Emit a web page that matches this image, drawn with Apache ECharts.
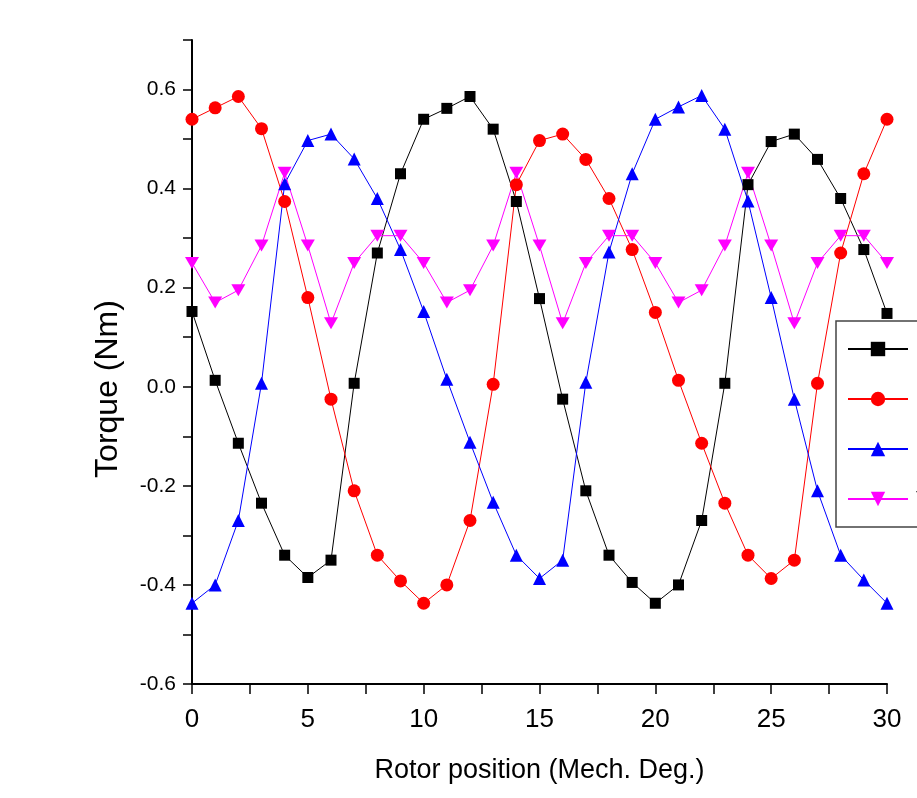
<!DOCTYPE html>
<html>
<head>
<meta charset="utf-8">
<script src="https://cdn.jsdelivr.net/npm/echarts@6/dist/echarts.min.js"></script>
<style>html,body{margin:0;padding:0;background:#fff}#c{width:917px;height:798px}</style>
</head>
<body>
<div id="c"></div>
<script>
const positions = [0,1,2,3,4,5,6,7,8,9,10,11,12,13,14,15,16,17,18,19,20,21,22,23,24,25,26,27,28,29,30];
const seriesNames = ['Phase A', 'Phase B', 'Phase C', 'Total'];
const phaseA = [0.152,0.013,-0.114,-0.235,-0.34,-0.385,-0.35,0.007,0.27,0.43,0.54,0.562,0.586,0.52,0.374,0.178,-0.025,-0.21,-0.34,-0.395,-0.437,-0.4,-0.27,0.007,0.408,0.495,0.51,0.459,0.38,0.277,0.148];
const phaseB = [0.54,0.563,0.586,0.521,0.374,0.18,-0.025,-0.21,-0.34,-0.392,-0.437,-0.4,-0.27,0.005,0.408,0.497,0.51,0.459,0.38,0.277,0.15,0.013,-0.114,-0.235,-0.34,-0.387,-0.35,0.007,0.27,0.43,0.54];
const phaseC = [-0.437,-0.4,-0.27,0.007,0.41,0.497,0.51,0.46,0.38,0.277,0.152,0.015,-0.112,-0.233,-0.34,-0.387,-0.35,0.009,0.272,0.43,0.54,0.565,0.588,0.52,0.375,0.18,-0.025,-0.21,-0.34,-0.39,-0.437];
const total = [0.25,0.17,0.195,0.285,0.432,0.285,0.128,0.25,0.305,0.305,0.25,0.17,0.195,0.285,0.432,0.285,0.128,0.25,0.305,0.305,0.25,0.17,0.195,0.285,0.432,0.285,0.128,0.25,0.305,0.305,0.25];
const yTicks = [-0.6,-0.4,-0.2,0.0,0.2,0.4,0.6];

const pair = arr => positions.map((x,i)=>[x, arr[i]]);
const FONT = 'Liberation Sans';
const NARROW = "'Liberation Sans Narrow', 'Liberation Sans'";
const downTri = 'path://M0,0 L2,0 L1,1.732 Z';

const chart = echarts.init(document.getElementById('c'));
chart.setOption({
  animation: false,
  backgroundColor: '#ffffff',
  grid: { left: 192, right: 30, top: 40, bottom: 114, containLabel: false },
  legend: {
    left: 836, top: 321, orient: 'vertical',
    padding: [19, 20, 19, 11],
    itemWidth: 60, itemHeight: 18, itemGap: 32,
    borderColor: '#444', borderWidth: 1.5,
    textStyle: { fontFamily: FONT, fontSize: 16, lineHeight: 18, color: '#000', padding: [0, 0, 0, 3] },
    data: seriesNames
  },
  xAxis: {
    type: 'value', min: 0, max: 30, interval: 5,
    name: 'Rotor position (Mech. Deg.)', nameLocation: 'middle', nameGap: 73,
    nameTextStyle: { fontFamily: FONT, fontSize: 27, color: '#000' },
    axisLine: { show: true, onZero: false, lineStyle: { color: '#000', width: 2 } },
    axisTick: { show: true, inside: false, length: 10, lineStyle: { color: '#000', width: 1.5 } },
    minorTick: { show: true, splitNumber: 2, length: 10, lineStyle: { color: '#000', width: 1.5 } },
    axisLabel: { fontFamily: NARROW, fontSize: 26, color: '#000', margin: 23 },
    splitLine: { show: false }
  },
  yAxis: {
    type: 'value', min: -0.6, max: 0.7, interval: 0.1,
    name: 'Torque (Nm)', nameLocation: 'middle', nameGap: 68, nameRotate: 90,
    nameTextStyle: { fontFamily: FONT, fontSize: 32, color: '#000', padding: [0, 54, 0, 0] },
    axisLine: { show: true, onZero: false, lineStyle: { color: '#000', width: 2 } },
    axisTick: { show: true, inside: false, length: 9, lineStyle: { color: '#000', width: 1.5 } },
    axisLabel: {
      fontFamily: FONT, fontSize: 21, color: '#000', margin: 16,
      formatter: v => {
        const r = Math.round(v*10)/10;
        const hit = yTicks.find(t => Math.abs(t - r) < 1e-6);
        return hit === undefined ? '' : hit.toFixed(1);
      }
    },
    splitLine: { show: false }
  },
  series: [
    { name: seriesNames[0], type: 'line', data: pair(phaseA), symbol: 'rect', symbolSize: 11,
      lineStyle: { color: '#000', width: 1 }, itemStyle: { color: '#000' } },
    { name: seriesNames[1], type: 'line', data: pair(phaseB), symbol: 'circle', symbolSize: 13,
      lineStyle: { color: '#ff0000', width: 1 }, itemStyle: { color: '#ff0000' } },
    { name: seriesNames[2], type: 'line', data: pair(phaseC), symbol: 'triangle', symbolSize: 13,
      lineStyle: { color: '#0000ff', width: 1 }, itemStyle: { color: '#0000ff' } },
    { name: seriesNames[3], type: 'line', data: pair(total), symbol: downTri, symbolSize: [14, 12],
      lineStyle: { color: '#ff00ff', width: 1 }, itemStyle: { color: '#ff00ff' } }
  ]
});
</script>
</body>
</html>
